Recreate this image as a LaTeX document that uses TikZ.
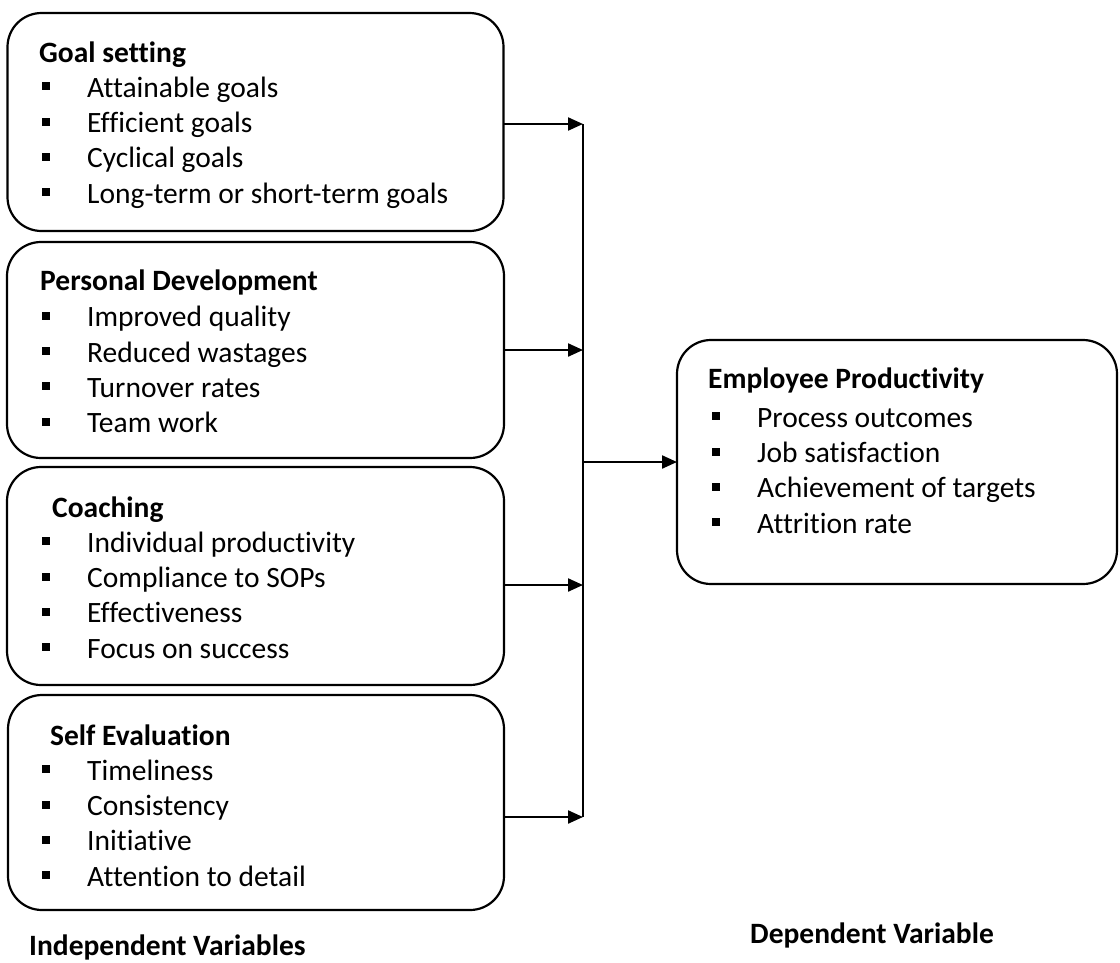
\documentclass[tikz,border=0pt]{standalone}
\usepackage{fontspec}
\setmainfont{Carlito}[Ligatures=NoCommon]
\usetikzlibrary{arrows.meta}
\begin{document}
\begin{tikzpicture}[x=1pt,y=-1pt,
  varbox/.style={draw=black, line width=2.2pt, rounded corners=34pt,
    rectangle, inner sep=0pt, outer sep=0pt},
  head/.style={font=\fontsize{29.5}{35}\selectfont\bfseries, inner sep=0pt, anchor=base west},
  itm/.style={font=\fontsize{29.5}{35}\selectfont, inner sep=0pt, anchor=base west},
  bul/.style={fill=black, draw=none, minimum size=8pt, inner sep=0pt},
  link/.style={line width=2.2pt, -{Triangle[length=15pt,width=13pt]}},
  trunk/.style={line width=2.2pt}]
\useasboundingbox (0,0) rectangle (1120,962);

% independent variable boxes
\node[varbox, minimum width=496pt, minimum height=218pt] (gs) at (255.5,122) {};
\node[varbox, minimum width=497pt, minimum height=216pt] (pd) at (255.5,350) {};
\node[varbox, minimum width=497pt, minimum height=218pt] (co) at (255.5,576) {};
\node[varbox, minimum width=496pt, minimum height=215pt] (se) at (256,802.5) {};
% dependent variable box
\node[varbox, minimum width=440pt, minimum height=244pt] (ep) at (897,462) {};

% box contents
\node[head] (gs-h) at (39,62) {Goal setting};
\foreach \t [count=\i] in {Attainable goals, Efficient goals, Cyclical goals, Long-term or short-term goals} {
  \node[bul] (gs-b\i) at (45.5,{62+35.3*\i-11}) {};
  \node[itm] (gs-\i) at (87,{62+35.3*\i}) {\t};
}
\node[head] (pd-h) at (40,290) {Personal Development};
\foreach \t [count=\i] in {Improved quality, Reduced wastages, Turnover rates, Team work} {
  \node[bul] (pd-b\i) at (45.5,{291.5+35.3*\i-11}) {};
  \node[itm] (pd-\i) at (87,{291.5+35.3*\i}) {\t};
}
\node[head] (co-h) at (52,517) {Coaching};
\foreach \t [count=\i] in {Individual productivity, Compliance to SOPs, Effectiveness, Focus on success} {
  \node[bul] (co-b\i) at (45.5,{517+35.3*\i-11}) {};
  \node[itm] (co-\i) at (87,{517+35.3*\i}) {\t};
}
\node[head] (se-h) at (50,745) {Self Evaluation};
\foreach \t [count=\i] in {Timeliness, Consistency, Initiative, Attention to detail} {
  \node[bul] (se-b\i) at (45.5,{745+35.3*\i-11}) {};
  \node[itm] (se-\i) at (87,{745+35.3*\i}) {\t};
}
\node[head] (ep-h) at (708,388) {Employee Productivity};
\foreach \t [count=\i] in {Process outcomes, Job satisfaction, Achievement of targets, Attrition rate} {
  \node[bul] (ep-b\i) at (715.5,{392+35.3*\i-11}) {};
  \node[itm] (ep-\i) at (757,{392+35.3*\i}) {\t};
}

% junction points on the collecting line
\coordinate (j1) at (583,124);
\coordinate (j2) at (583,350);
\coordinate (j3) at (583,585);
\coordinate (j4) at (583,817);
\coordinate (jm) at (583,462);

\draw[trunk] (j1) -- (j4);
\draw[link] (gs.east |- j1) -- (j1);
\draw[link] (pd.east |- j2) -- (j2);
\draw[link] (co.east |- j3) -- (j3);
\draw[link] (se.east |- j4) -- (j4);
\draw[link] (jm) -- (ep.west |- jm);

% captions
\node[head] (iv) at (29,955) {Independent Variables};
\node[head] (dv) at (750,943) {Dependent Variable};
\end{tikzpicture}
\end{document}
